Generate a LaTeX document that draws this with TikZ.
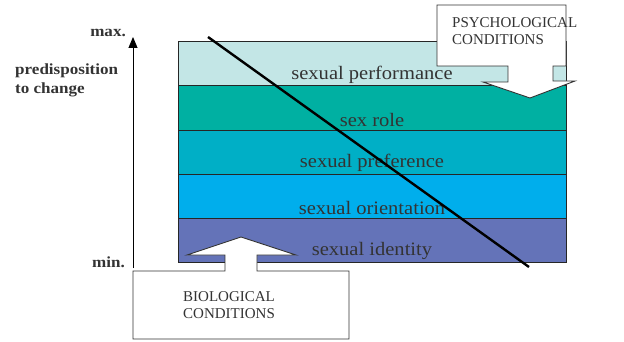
\documentclass[tikz,border=0pt]{standalone}
\usepackage{fontspec}
\setmainfont{Liberation Serif}
\newfontfamily\widefont[FakeStretch=1.08]{Liberation Serif}
\newfontfamily\wideboldfont[FakeStretch=1.1]{Liberation Serif Bold}
\usetikzlibrary{arrows.meta}
\definecolor{cperf}{HTML}{C3E6E6}
\definecolor{crole}{HTML}{00B0A2}
\definecolor{cpref}{HTML}{00AFC6}
\definecolor{corient}{HTML}{00AEEC}
\definecolor{cident}{HTML}{6473B8}
\definecolor{ctext}{HTML}{333333}
\begin{document}
\begin{tikzpicture}[x=1pt,y=-1pt,
  band/.style={draw=black!85, line width=0.7pt, minimum width=388pt, inner sep=0pt, outer sep=0pt, anchor=north west},
  bandlabel/.style={text=ctext, font=\widefont\fontsize{19}{21}\selectfont, inner sep=0pt},
  callout/.style={draw=black!80, fill=white, line width=0.9pt, line join=miter},
  condtext/.style={text=ctext, font=\fontsize{15}{17}\selectfont, align=left, anchor=north west, inner sep=0pt},
  axislabel/.style={text=ctext, font=\wideboldfont\fontsize{15.5}{19}\selectfont, inner sep=0pt}
]
\useasboundingbox (0,0) rectangle (624,342);
% bands
\node[band, fill=cperf,   minimum height=44pt] (b1) at (178,41) {};
\node[band, fill=crole,   minimum height=45pt] (b2) at (178,85) {};
\node[band, fill=cpref,   minimum height=44pt] (b3) at (178,130) {};
\node[band, fill=corient, minimum height=44pt] (b4) at (178,174) {};
\node[band, fill=cident,  minimum height=44pt] (b5) at (178,218) {};
\node[bandlabel] (l1) at (372,75) {sexual performance};
\node[bandlabel] (l2) at (372,120) {sex role};
\node[bandlabel] (l3) at (372,163) {sexual preference};
\node[bandlabel] (l4) at (372,208) {sexual orientation};
\node[bandlabel] (l5) at (372,251) {sexual identity};
% diagonal
\coordinate (d1) at (208,37);
\coordinate (d2) at (529,267);
\draw[line width=2.4pt] (d1) -- (d2);
% axis
\coordinate (amin) at (133,268);
\coordinate (amax) at (133,37);
\draw[line width=0.9pt, -{Triangle[length=11pt,width=9pt]}] (amin) -- (amax);
\node[axislabel, anchor=east] (max) at (126,33) {max.};
\node[axislabel, anchor=east] (min) at (125,262) {min.};
\node[axislabel, anchor=north west, align=left] (pred) at (15,64) {predisposition\\to change};
% psychological callout
\draw[callout] (437,5) -- (566,5) -- (566,66) -- (553,66) -- (553,81) -- (575,81) -- (530,98) -- (483,82) -- (508,82) -- (508,66) -- (437,66) -- cycle;
\node[condtext] (psy) at (452,17) {PSYCHOLOGICAL\\CONDITIONS};
% biological callout
\draw[callout] (133,271) -- (225,271) -- (225,255) -- (187,255) -- (241,237) -- (296,255) -- (257,255) -- (257,271) -- (349,271) -- (349,339) -- (133,339) -- cycle;
\node[condtext] (bio) at (183,291) {BIOLOGICAL\\CONDITIONS};
\end{tikzpicture}
\end{document}
